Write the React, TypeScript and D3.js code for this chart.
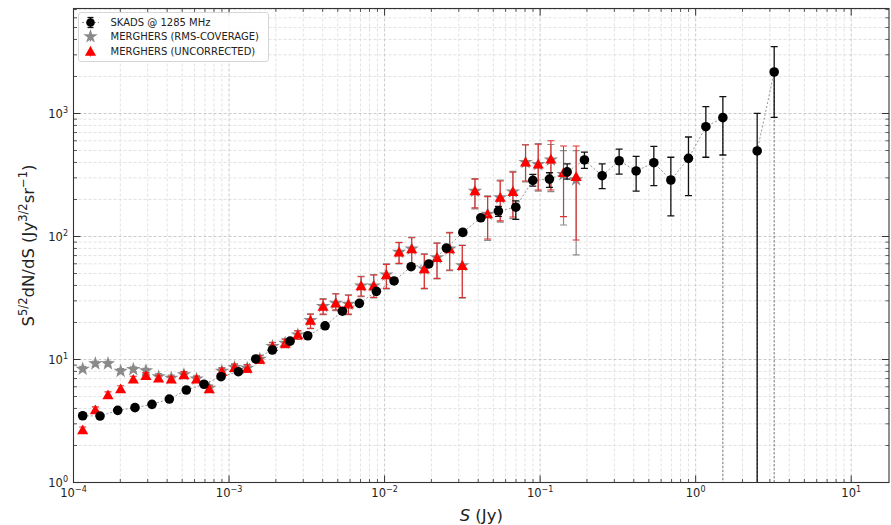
import React, { useEffect, useRef } from "react";
import * as d3 from "d3";

const W = 891;
const H = 525;
const margin = { left: 73.5, right: 2, top: 8.5, bottom: 42.5 };

// SKADS @ 1285 MHz (0 = empty bin)
const skadsS = [
  1.146e-4, 1.481e-4, 1.924e-4, 2.485e-4, 3.197e-4, 4.13e-4, 5.313e-4, 6.906e-4, 8.883e-4, 1.148e-3,
  1.485e-3, 1.899e-3, 2.468e-3, 3.207e-3, 4.144e-3, 5.355e-3, 6.886e-3, 8.857e-3, 1.151e-2, 1.481e-2,
  1.924e-2, 2.496e-2, 3.184e-2, 4.155e-2, 5.393e-2, 6.977e-2, 8.976e-2, 0.1148, 0.1492, 0.1927,
  0.2505, 0.3221, 0.4143, 0.5384, 0.6927, 0.899, 1.163, 1.496, 1.93, 2.486, 3.198, 4.13,
];
const skadsY = [
  3.49, 3.47, 3.86, 4.06, 4.32, 4.77, 5.65, 6.29, 7.25, 7.96,
  10.1, 11.95, 14.1, 15.6, 18.8, 24.7, 28.6, 35.8, 43.5, 56.8,
  59.8, 80.6, 108, 142, 161, 173, 286, 293, 335, 419,
  312, 413, 341, 398, 288, 432, 781, 925, 0, 496, 2175, 0,
];
const skadsLo = [
  3.4, 3.39, 3.78, 3.98, 4.24, 4.68, 5.54, 6.17, 7.11, 7.8,
  9.9, 11.7, 13.8, 15.2, 18.3, 24.0, 27.7, 34.6, 41.9, 54.5,
  57.2, 76.8, 102, 136, 146, 138, 257, 251, 293, 358,
  245, 322, 234, 259, 147, 215, 441, 460, 0, 0, 931, 0,
];
const skadsHi = [
  3.58, 3.55, 3.94, 4.14, 4.4, 4.86, 5.76, 6.41, 7.39, 8.12,
  10.3, 12.2, 14.4, 16.0, 19.3, 25.4, 29.5, 37.0, 45.1, 59.1,
  62.4, 84.4, 114, 148, 176, 195, 320, 330, 389, 486,
  389, 514, 449, 541, 441, 644, 1136, 1370, 0, 1004, 3493, 0,
];

// MERGHERS bins
const merghersS = [
  1.146e-4, 1.382e-4, 1.666e-4, 2.01e-4, 2.424e-4, 2.922e-4, 3.526e-4, 4.252e-4, 5.129e-4, 6.184e-4,
  7.46e-4, 8.995e-4, 1.085e-3, 1.308e-3, 1.578e-3, 1.903e-3, 2.295e-3, 2.768e-3, 3.338e-3, 4.025e-3,
  4.856e-3, 5.855e-3, 7.062e-3, 8.515e-3, 1.027e-2, 1.239e-2, 1.494e-2, 1.801e-2, 2.173e-2, 2.62e-2,
  3.16e-2, 3.811e-2, 4.597e-2, 5.542e-2, 6.685e-2, 8.06e-2, 9.723e-2, 0.1173, 0.1414, 0.1705,
];

// MERGHERS (RMS-COVERAGE)
const rmsY = [
  8.37, 9.25, 9.25, 8.06, 8.32, 8.11, 7.25, 7.05, 7.55, 6.95,
  5.85, 8.05, 8.65, 8.5, 10.1, 12.8, 13.6, 15.9, 20.8, 27.0,
  28.7, 28.2, 39.8, 39.8, 48.8, 74.6, 79.3, 54.6, 67.4, 79.3,
  58.1, 234, 152, 207, 231, 401, 386, 420, 320, 290,
];
const rmsLo = [
  8.0, 8.85, 8.85, 7.7, 7.95, 7.75, 6.85, 6.65, 7.13, 6.56,
  5.5, 7.55, 8.1, 7.95, 9.4, 11.9, 12.6, 14.7, 17.8, 23.2,
  25.0, 23.2, 32.5, 31.7, 37.5, 60.0, 59.2, 37.5, 45.2, 52.8,
  31.5, 168, 93, 131, 140, 278, 234, 232, 124, 70.8,
];
const rmsHi = [
  8.75, 9.65, 9.65, 8.42, 8.7, 8.47, 7.67, 7.46, 7.99, 7.36,
  6.22, 8.58, 9.22, 9.08, 10.85, 13.8, 14.7, 17.2, 23.5, 31.2,
  34.4, 33.6, 47.5, 49.0, 59.9, 89.8, 98.6, 72.3, 88.8, 108,
  85.2, 296, 214, 287, 338, 560, 568, 560, 500, 500,
];

// MERGHERS (UNCORRECTED)
const uncY = [
  2.67, 3.89, 5.14, 5.76, 6.9, 7.38, 7.03, 6.9, 7.48, 6.9,
  5.76, 7.96, 8.58, 8.45, 10.0, 12.7, 13.5, 15.8, 20.7, 26.9,
  28.6, 28.1, 39.6, 39.6, 48.6, 74.4, 79.1, 54.4, 67.2, 79.1,
  57.9, 234, 152, 207, 231, 401, 386, 424, 330, 306,
];
const uncLo = [
  2.52, 3.67, 4.85, 5.43, 6.51, 6.96, 6.63, 6.51, 7.06, 6.51,
  5.43, 7.46, 8.04, 7.9, 9.3, 11.8, 12.5, 14.6, 17.9, 23.4,
  25.3, 23.4, 32.8, 32.0, 37.9, 60.5, 59.8, 37.9, 45.7, 53.4,
  31.9, 171, 95.4, 134, 144, 283, 239, 239, 145, 93.6,
];
const uncHi = [
  2.83, 4.12, 5.45, 6.11, 7.31, 7.82, 7.45, 7.31, 7.93, 7.31,
  6.11, 8.49, 9.15, 9.04, 10.75, 13.7, 14.6, 17.1, 23.3, 30.9,
  34.1, 33.3, 47.1, 48.6, 59.4, 89.1, 97.8, 71.7, 88.1, 107,
  84.5, 293, 211, 283, 333, 554, 562, 601, 544, 544,
];

const xDomain = [1e-4, 17.5];
const yDomain = [1, 7140];
const xDecades = [-4, -3, -2, -1, 0, 1];
const yDecades = [0, 1, 2, 3];

const legendLabels = ["SKADS @ 1285 MHz", "MERGHERS (RMS-COVERAGE)", "MERGHERS (UNCORRECTED)"];

const FONT = "DejaVu Sans, Verdana, sans-serif";

const App = () => {
  const ref = useRef<SVGSVGElement>(null);

  useEffect(() => {
    const svg = d3.select(ref.current);
    svg.selectAll("*").remove();

    const x0 = margin.left;
    const x1 = W - margin.right;
    const y0 = margin.top;
    const y1 = H - margin.bottom;

    const x = d3.scaleLog().domain(xDomain).range([x0, x1]);
    const y = d3.scaleLog().domain(yDomain).range([y1, y0]);

    svg.append("rect").attr("width", W).attr("height", H).attr("fill", "#fff");

    svg
      .append("clipPath")
      .attr("id", "plotclip")
      .append("rect")
      .attr("x", x0)
      .attr("y", y0)
      .attr("width", x1 - x0)
      .attr("height", y1 - y0);

    // tick positions
    const minorOf = (decs: number[], lo: number, hi: number) => {
      const out: number[] = [];
      decs.concat([decs[decs.length - 1] + 1]).forEach((d) => {
        for (let m = 2; m <= 9; m++) {
          const v = m * Math.pow(10, d - 1);
          if (v > lo && v < hi) out.push(v);
        }
      });
      return out;
    };
    const xMajor = xDecades.map((d) => Math.pow(10, d));
    const yMajor = yDecades.map((d) => Math.pow(10, d));
    const xMinor = minorOf(xDecades, xDomain[0], xDomain[1]);
    const yMinor = minorOf(yDecades, yDomain[0], yDomain[1]);

    // grid
    const grid = svg.append("g");
    xMinor.forEach((v) =>
      grid.append("line").attr("x1", x(v)).attr("x2", x(v)).attr("y1", y0).attr("y2", y1)
        .attr("stroke", "#dadada").attr("stroke-width", 0.8).attr("stroke-dasharray", "3,2")
    );
    yMinor.forEach((v) =>
      grid.append("line").attr("x1", x0).attr("x2", x1).attr("y1", y(v)).attr("y2", y(v))
        .attr("stroke", "#dadada").attr("stroke-width", 0.8).attr("stroke-dasharray", "3,2")
    );
    xMajor.forEach((v) =>
      grid.append("line").attr("x1", x(v)).attr("x2", x(v)).attr("y1", y0).attr("y2", y1)
        .attr("stroke", "#c4c4c4").attr("stroke-width", 0.9).attr("stroke-dasharray", "3,2")
    );
    yMajor.forEach((v) =>
      grid.append("line").attr("x1", x0).attr("x2", x1).attr("y1", y(v)).attr("y2", y(v))
        .attr("stroke", "#c4c4c4").attr("stroke-width", 0.9).attr("stroke-dasharray", "3,2")
    );

    const plot = svg.append("g").attr("clip-path", "url(#plotclip)");

    const errorBars = (
      g: any, xs: number[], ys: number[], lo: number[], hi: number[], color: string, width: number
    ) => {
      xs.forEach((s, i) => {
        if (!(ys[i] > 0)) return;
        const cx = x(s);
        const top = hi[i] > 0 ? y(hi[i]) : y(ys[i]);
        const bot = lo[i] > 0 ? y(lo[i]) : y1 + 5;
        g.append("line").attr("x1", cx).attr("x2", cx).attr("y1", top).attr("y2", bot)
          .attr("stroke", color).attr("stroke-width", width);
        g.append("line").attr("x1", cx - 3.5).attr("x2", cx + 3.5).attr("y1", top).attr("y2", top)
          .attr("stroke", color).attr("stroke-width", width);
        if (lo[i] > 0)
          g.append("line").attr("x1", cx - 3.5).attr("x2", cx + 3.5).attr("y1", bot).attr("y2", bot)
            .attr("stroke", color).attr("stroke-width", width);
      });
    };

    const star = d3.symbol().type(d3.symbolStar).size(64);
    const tri = d3.symbol().type(d3.symbolTriangle).size(54);

    // RMS-coverage (gray stars)
    errorBars(plot, merghersS, rmsY, rmsLo, rmsHi, "#8c8c8c", 1.2);
    merghersS.forEach((s, i) =>
      plot.append("path").attr("d", star()).attr("transform", `translate(${x(s)},${y(rmsY[i])})`)
        .attr("fill", "#8a8a8a")
    );

    // uncorrected (red triangles)
    errorBars(plot, merghersS, uncY, uncLo, uncHi, "#e03030", 1.1);
    merghersS.forEach((s, i) =>
      plot.append("path").attr("d", tri()).attr("transform", `translate(${x(s)},${y(uncY[i]) + 1})`)
        .attr("fill", "#ff0000")
    );

    // SKADS line
    const pts = skadsS.map((s, i) => ({ s, v: skadsY[i] }));
    const line = d3.line<{ s: number; v: number }>()
      .defined((d) => d.v > 0)
      .x((d) => x(d.s))
      .y((d) => y(d.v));
    plot.append("path").datum(pts).attr("d", line).attr("fill", "none")
      .attr("stroke", "#8a8a8a").attr("stroke-width", 0.9).attr("stroke-dasharray", "2,2");
    // empty bins pull the line to the floor
    pts.forEach((d, i) => {
      if (!(d.v > 0)) return;
      const nb = (i > 0 && pts[i - 1].v === 0) || (i < pts.length - 1 && pts[i + 1].v === 0);
      if (nb)
        plot.append("line").attr("x1", x(d.s)).attr("x2", x(d.s)).attr("y1", y(d.v)).attr("y2", y1 + 5)
          .attr("stroke", "#666").attr("stroke-width", 0.9).attr("stroke-dasharray", "2.5,1.5");
    });
    errorBars(plot, skadsS, skadsY, skadsLo, skadsHi, "#111", 1.3);
    pts.forEach((d) => {
      if (d.v > 0)
        plot.append("circle").attr("cx", x(d.s)).attr("cy", y(d.v)).attr("r", 4.8).attr("fill", "#000");
    });

    // ticks (inside, all sides)
    const tk = svg.append("g").attr("stroke", "#333");
    const tickSet = (vals: number[], len: number, w: number, horiz: boolean) => {
      vals.forEach((v) => {
        if (horiz) {
          const px = x(v);
          tk.append("line").attr("x1", px).attr("x2", px).attr("y1", y1).attr("y2", y1 - len).attr("stroke-width", w);
          tk.append("line").attr("x1", px).attr("x2", px).attr("y1", y0).attr("y2", y0 + len).attr("stroke-width", w);
        } else {
          const py = y(v);
          tk.append("line").attr("x1", x0).attr("x2", x0 + len).attr("y1", py).attr("y2", py).attr("stroke-width", w);
          tk.append("line").attr("x1", x1).attr("x2", x1 - len).attr("y1", py).attr("y2", py).attr("stroke-width", w);
        }
      });
    };
    tickSet(xMajor, 7, 1, true);
    tickSet(xMinor, 3.5, 0.8, true);
    tickSet(yMajor, 7, 1, false);
    tickSet(yMinor, 3.5, 0.8, false);

    svg.append("rect").attr("x", x0).attr("y", y0).attr("width", x1 - x0).attr("height", y1 - y0)
      .attr("fill", "none").attr("stroke", "#333").attr("stroke-width", 1.1);

    // tick labels
    const pow = (g: any, exp: number) => {
      g.append("tspan").text("10");
      g.append("tspan").attr("dy", -5).attr("font-size", 8).text(String(exp).replace("-", "\u2212"));
    };
    xDecades.forEach((d) => {
      const t = svg.append("text").attr("x", x(Math.pow(10, d))).attr("y", 497)
        .attr("text-anchor", "middle").attr("font-family", FONT).attr("font-size", 11.5).attr("fill", "#222");
      pow(t, d);
    });
    yDecades.forEach((d) => {
      const t = svg.append("text").attr("x", 68).attr("y", y(Math.pow(10, d)) + 4)
        .attr("text-anchor", "end").attr("font-family", FONT).attr("font-size", 11.5).attr("fill", "#222");
      pow(t, d);
    });

    // axis labels
    const xl = svg.append("text").attr("x", (x0 + x1) / 2).attr("y", 521).attr("text-anchor", "middle")
      .attr("font-family", FONT).attr("font-size", 16.5).attr("fill", "#222");
    xl.append("tspan").attr("font-style", "italic").text("S");
    xl.append("tspan").text(" (Jy)");

    const yl = svg.append("text").attr("transform", `translate(34,${(y0 + y1) / 2}) rotate(-90)`)
      .attr("text-anchor", "middle").attr("font-family", FONT).attr("font-size", 16.5).attr("fill", "#222");
    const parts: [string, boolean][] = [
      ["S", false], ["5/2", true], ["dN/dS (Jy", false], ["3/2", true], ["sr", false], ["\u22121", true], [")", false],
    ];
    let up = false;
    parts.forEach(([txt, sup]) => {
      const ts = yl.append("tspan").text(txt);
      if (sup) {
        ts.attr("font-size", 11.5).attr("dy", -7);
        up = true;
      } else if (up) {
        ts.attr("dy", 7);
        up = false;
      }
    });

    // legend
    const lg = svg.append("g");
    lg.append("rect").attr("x", 78.5).attr("y", 12.5).attr("width", 190).attr("height", 49).attr("rx", 2.5)
      .attr("fill", "#fff").attr("fill-opacity", 0.85).attr("stroke", "#ccc").attr("stroke-width", 0.8);
    const rows = [22.5, 36.5, 51.5];
    const mx = 90.5;
    // SKADS entry
    lg.append("line").attr("x1", 82).attr("x2", 99).attr("y1", rows[0]).attr("y2", rows[0])
      .attr("stroke", "#8a8a8a").attr("stroke-width", 0.9).attr("stroke-dasharray", "2,2");
    lg.append("line").attr("x1", mx).attr("x2", mx).attr("y1", rows[0] - 5).attr("y2", rows[0] + 5)
      .attr("stroke", "#111").attr("stroke-width", 1.3);
    [-5, 5].forEach((o) =>
      lg.append("line").attr("x1", mx - 3).attr("x2", mx + 3).attr("y1", rows[0] + o).attr("y2", rows[0] + o)
        .attr("stroke", "#111").attr("stroke-width", 1.3)
    );
    lg.append("circle").attr("cx", mx).attr("cy", rows[0]).attr("r", 4.3).attr("fill", "#000");
    // RMS entry
    lg.append("line").attr("x1", mx).attr("x2", mx).attr("y1", rows[1] - 5).attr("y2", rows[1] + 5)
      .attr("stroke", "#8c8c8c").attr("stroke-width", 1.2);
    lg.append("path").attr("d", star()).attr("transform", `translate(${mx},${rows[1]})`).attr("fill", "#8a8a8a");
    // uncorrected entry
    lg.append("line").attr("x1", mx).attr("x2", mx).attr("y1", rows[2] - 5).attr("y2", rows[2] + 5)
      .attr("stroke", "#e03030").attr("stroke-width", 1.2);
    lg.append("path").attr("d", tri()).attr("transform", `translate(${mx},${rows[2] + 1})`).attr("fill", "#ff0000");

    legendLabels.forEach((t, i) =>
      lg.append("text").attr("x", 110.5).attr("y", rows[i] + 3.6).attr("font-family", FONT)
        .attr("font-size", 10).attr("fill", "#222").text(t)
    );
  }, []);

  return (
    <div style={{ position: "absolute", left: 0, top: 0 }}>
      <svg ref={ref} width={W} height={H} style={{ display: "block" }}></svg>
    </div>
  );
};

export default App;
